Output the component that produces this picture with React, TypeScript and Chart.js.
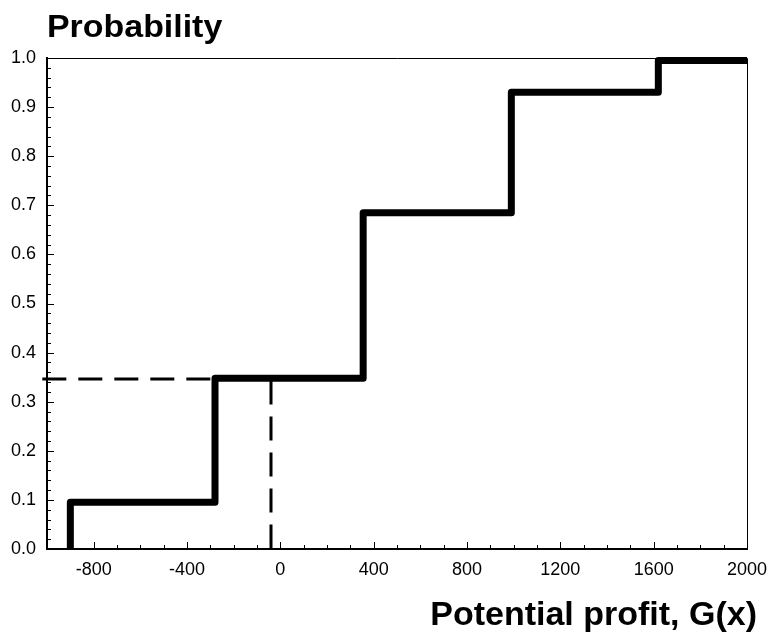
import React, { useEffect, useRef } from "react";
import { Chart, registerables } from "chart.js";

Chart.register(...registerables);

// Step (cumulative probability) curve
const stepX = [-900, -900, -280, 355, 990, 1620, 2000];
const stepY = [0, 0.095, 0.348, 0.685, 0.93, 0.995, 0.995];

// Dashed guide lines
const dashHX = [-300, -1034];
const dashHY = [0.346, 0.346];
const dashVX = [-40, -40];
const dashVY = [0.343, -0.01];

// Axis ticks
const xTicks = [-800, -400, 0, 400, 800, 1200, 1600, 2000];
const yTicks = [0, 0.1, 0.2, 0.3, 0.4, 0.5, 0.6, 0.7, 0.8, 0.9, 1.0];
const xMin = -1000;
const xMax = 2000;
const yMin = 0;
const yMax = 1;
const xMinorStep = 100;
const yMinorStep = 0.02;

const yTitle = "Probability";
const xTitle = "Potential profit, G(x)";

const FONT = "'Liberation Sans', Arial, Helvetica, sans-serif";

const toPts = (xs: number[], ys: number[]) => xs.map((x, i) => ({ x, y: ys[i] }));

const decorPlugin = {
  id: "decor",
  afterDraw(chart: any) {
    const { ctx, chartArea, scales } = chart;
    const xs = scales.x;
    const ys = scales.y;
    ctx.save();
    // top & right frame
    ctx.strokeStyle = "#000";
    ctx.lineWidth = 1;
    ctx.beginPath();
    ctx.moveTo(chartArea.left, chartArea.top + 0.5);
    ctx.lineTo(chartArea.right + 0.5, chartArea.top + 0.5);
    ctx.lineTo(chartArea.right + 0.5, chartArea.bottom);
    ctx.stroke();

    // inward ticks
    ctx.lineWidth = 1;
    ctx.beginPath();
    const nx = Math.round((xMax - xMin) / xMinorStep);
    for (let i = 1; i < nx; i++) {
      const v = xMin + i * xMinorStep;
      const px = Math.round(xs.getPixelForValue(v)) + 0.5;
      const major = xTicks.includes(v);
      const len = major ? 7 : 4;
      ctx.moveTo(px, chartArea.bottom);
      ctx.lineTo(px, chartArea.bottom - len);
    }
    const ny = Math.round((yMax - yMin) / yMinorStep);
    for (let i = 1; i < ny; i++) {
      const v = yMin + i * yMinorStep;
      const py = Math.round(ys.getPixelForValue(v)) + 0.5;
      const major = i % 5 === 0;
      const len = major ? 7 : 4;
      ctx.moveTo(chartArea.left, py);
      ctx.lineTo(chartArea.left + len, py);
    }
    ctx.stroke();

    // titles
    ctx.fillStyle = "#000";
    ctx.textBaseline = "alphabetic";
    ctx.font = `bold 32px ${FONT}`;
    ctx.textAlign = "left";
    ctx.save();
    ctx.translate(47, 37);
    ctx.scale(1.06, 1);
    ctx.fillText(yTitle, 0, 0);
    ctx.restore();

    ctx.font = `bold 34px ${FONT}`;
    ctx.textAlign = "right";
    ctx.fillText(xTitle, 757, 625);
    ctx.restore();
  },
};

export default function App() {
  const ref = useRef<HTMLCanvasElement | null>(null);

  useEffect(() => {
    document.body.style.margin = "0";
    const canvas = ref.current;
    if (!canvas) return;
    const chart = new Chart(canvas, {
      type: "line",
      data: {
        datasets: [
          {
            data: toPts(stepX, stepY),
            borderColor: "#000",
            borderWidth: 7,
            stepped: "before",
            pointRadius: 0,
            fill: false,
            borderJoinStyle: "round",
            borderCapStyle: "butt",
            clip: false,
            order: 1,
          },
          {
            data: toPts(dashHX, dashHY),
            borderColor: "#000",
            borderWidth: 3,
            borderDash: [24, 12],
            pointRadius: 0,
            fill: false,
            clip: false,
            order: 2,
          },
          {
            data: toPts(dashVX, dashVY),
            borderColor: "#000",
            borderWidth: 3,
            borderDash: [24, 12],
            pointRadius: 0,
            fill: false,
            clip: false,
            order: 2,
          },
        ],
      } as any,
      options: {
        responsive: false,
        animation: false,
        devicePixelRatio: 1,
        layout: { padding: { top: 58, right: 24, left: 0, bottom: 0 } },
        plugins: {
          legend: { display: false },
          tooltip: { enabled: false },
          title: { display: false },
        },
        scales: {
          x: {
            type: "linear",
            min: xMin,
            max: xMax,
            grid: { display: false, drawTicks: false },
            border: { display: true, color: "#000", width: 2 },
            afterBuildTicks: (scale: any) => {
              scale.ticks = xTicks.map((v) => ({ value: v }));
            },
            afterFit: (scale: any) => {
              scale.height = 86;
              scale.paddingLeft = 0;
              scale.paddingRight = 0;
            },
            ticks: {
              autoSkip: false,
              maxRotation: 0,
              padding: 10,
              color: "#000",
              font: { family: FONT, size: 18 },
              callback: (v: any) => String(v),
            },
          },
          y: {
            type: "linear",
            min: yMin,
            max: yMax,
            grid: { display: false, drawTicks: false },
            border: { display: true, color: "#000", width: 2 },
            afterBuildTicks: (scale: any) => {
              scale.ticks = yTicks.map((v) => ({ value: v }));
            },
            afterFit: (scale: any) => {
              scale.width = 47;
              scale.paddingTop = 0;
              scale.paddingBottom = 0;
            },
            ticks: {
              autoSkip: false,
              padding: 11,
              color: "#000",
              font: { family: FONT, size: 18 },
              callback: (v: any) => Number(v).toFixed(1),
            },
          },
        },
      } as any,
      plugins: [decorPlugin],
    });
    return () => chart.destroy();
  }, []);

  return (
    <div style={{ width: 771, height: 635 }}>
      <canvas ref={ref} width={771} height={635} style={{ display: "block", width: 771, height: 635 }} />
    </div>
  );
}
